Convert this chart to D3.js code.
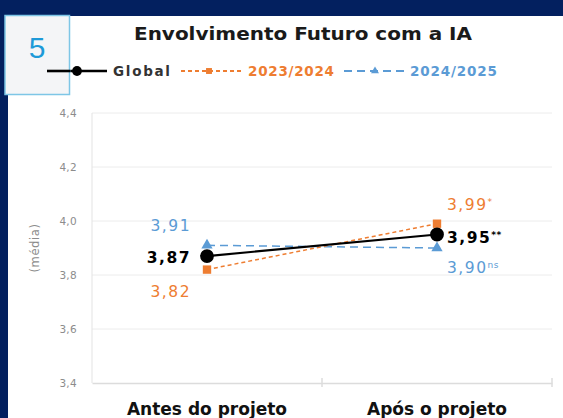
<!DOCTYPE html>
<html lang="en">
<head>
<meta charset="UTF-8" />
<script src="https://d3js.org/d3.v7.min.js"></script>
<style>
  html, body { margin: 0; padding: 0; background: #03205f; }
  svg { display: block; font-family: "DejaVu Sans", "Liberation Sans", Arial, sans-serif; }
</style>
</head>
<body>
<svg id="chart" width="563" height="418"></svg>
<script>
// data
var categories = ["Antes do projeto", "Após o projeto"];
var seriesNames = ["Global", "2023/2024", "2024/2025"];
var globalVals = [3.87, 3.95];
var y2324Vals = [3.82, 3.99];
var y2425Vals = [3.91, 3.90];
var pointLabels = [["3,87", "3,95"], ["3,82", "3,99"], ["3,91", "3,90"]];
var pointSups = [["", "**"], ["", "*"], ["", "ns"]];
var yTicks = [3.4, 3.6, 3.8, 4.0, 4.2, 4.4];

var series = [
  {name: seriesNames[0], values: globalVals, color: "#000000", dash: null, width: 2.2, symbol: d3.symbolCircle, size: 150, bold: true},
  {name: seriesNames[1], values: y2324Vals, color: "#ee7d31", dash: "4,3", width: 1.5, symbol: d3.symbolSquare, size: 70, bold: false},
  {name: seriesNames[2], values: y2425Vals, color: "#5b9bd5", dash: "8,5", width: 1.5, symbol: d3.symbolTriangle, size: 55, bold: false}
];

var svg = d3.select("#chart");

// white panel
svg.append("rect").attr("x", 8).attr("y", 16).attr("width", 555).attr("height", 402).attr("fill", "#ffffff");

var margin = {left: 92, right: 11, top: 113, bottom: 35};
var W = 563, H = 418;
var x = d3.scaleBand().domain(categories).range([margin.left, W - margin.right]);
var y = d3.scaleLinear().domain([3.4, 4.4]).range([H - margin.bottom, margin.top]);

// grid
svg.append("g").selectAll("line").data(yTicks.slice(1)).join("line")
  .attr("x1", margin.left).attr("x2", W - margin.right)
  .attr("y1", d => y(d)).attr("y2", d => y(d))
  .attr("stroke", "#ececec").attr("stroke-width", 1);

// left axis line
svg.append("line").attr("x1", margin.left).attr("x2", margin.left)
  .attr("y1", y(4.4)).attr("y2", y(3.4)).attr("stroke", "#e3e3e3");

// y tick labels
svg.append("g").selectAll("text").data(yTicks).join("text")
  .attr("x", 77).attr("y", d => y(d) + 4)
  .attr("text-anchor", "end").attr("font-size", 10.5).attr("fill", "#8c8c8c")
  .attr("letter-spacing", 0.3)
  .text(d => d3.format(".1f")(d).replace(".", ","));

// bottom axis
var xAxis = svg.append("g").attr("transform", "translate(0," + y(3.4) + ")")
  .call(d3.axisBottom(x).tickSize(0).tickFormat(""));
xAxis.select(".domain").attr("stroke", "#dcdcdc").attr("stroke-width", 1.5);
var bounds = [margin.left, x(categories[1]), W - margin.right];
xAxis.selectAll(".sep").data(bounds.slice(1)).join("line").attr("class", "sep")
  .attr("x1", d => d).attr("x2", d => d).attr("y1", -5).attr("y2", 4)
  .attr("stroke", "#dcdcdc").attr("stroke-width", 1.5);

svg.append("g").selectAll("text").data(categories).join("text")
  .attr("x", d => x(d) + x.bandwidth() / 2).attr("y", 415)
  .attr("text-anchor", "middle").attr("font-size", 17).attr("font-weight", "bold")
  .attr("fill", "#111").text(d => d);

// y axis title
svg.append("text").attr("transform", "translate(39," + y(3.9) + ") rotate(-90)")
  .attr("text-anchor", "middle").attr("font-size", 11.5).attr("letter-spacing", 0.6)
  .attr("fill", "#8c8c8c").text("(média)");

// lines and markers (draw global last)
var cx = c => x(c) + x.bandwidth() / 2;
var line = d3.line().x((d, i) => cx(categories[i])).y(d => y(d));
[2, 1, 0].forEach(function (k) {
  var s = series[k];
  svg.append("path").datum(s.values).attr("d", line).attr("fill", "none")
    .attr("stroke", s.color).attr("stroke-width", s.width).attr("stroke-dasharray", s.dash);
  svg.append("g").selectAll("path").data(s.values).join("path")
    .attr("transform", (d, i) => "translate(" + cx(categories[i]) + "," + y(d) + ")")
    .attr("d", d3.symbol().type(s.symbol).size(s.size)).attr("fill", s.color);
});

// value labels
var leftDy = [7, 27, -14];
var rightDy = [8, -14, 25];
series.forEach(function (s, k) {
  s.values.forEach(function (v, i) {
    var px = cx(categories[i]), py = y(v);
    var t = svg.append("text").attr("font-size", 15.5).attr("fill", s.color)
      .attr("letter-spacing", 1.5)
      .attr("font-weight", s.bold ? "bold" : "normal");
    if (i === 0) {
      t.attr("x", px - 16).attr("y", py + leftDy[k]).attr("text-anchor", "end");
    } else {
      t.attr("x", px + 10).attr("y", py + rightDy[k]).attr("text-anchor", "start");
    }
    t.append("tspan").text(pointLabels[k][i]);
    if (pointSups[k][i]) t.append("tspan").attr("font-size", 9).attr("dy", -5).attr("letter-spacing", 0.5).text(pointSups[k][i]);
  });
});

// title
svg.append("text").attr("x", 303).attr("y", 40).attr("text-anchor", "middle")
  .attr("font-size", 17.5).attr("font-weight", "bold").attr("fill", "#1a1a1a")
  .attr("textLength", 338).attr("lengthAdjust", "spacingAndGlyphs")
  .text("Envolvimento Futuro com a IA");

// legend
var legend = [
  {x0: 47, x1: 107, mx: 77, tx: 113, tw: 57, s: series[0]},
  {x0: 181, x1: 244, mx: 209, tx: 248, tw: 86, s: series[1]},
  {x0: 344, x1: 404, mx: 375, tx: 410, tw: 87, s: series[2]}
];
legend.forEach(function (l) {
  var g = svg.append("g");
  g.append("line").attr("x1", l.x0).attr("x2", l.x1).attr("y1", 71).attr("y2", 71)
    .attr("stroke", l.s.color).attr("stroke-width", l.s.width + 0.4).attr("stroke-dasharray", l.s.dash);
  g.append("path").attr("transform", "translate(" + l.mx + ",71)")
    .attr("d", d3.symbol().type(l.s.symbol).size(l.s.size * 0.5)).attr("fill", l.s.color);
  g.append("text").attr("x", l.tx).attr("y", 76).attr("font-size", 13.5).attr("font-weight", "bold")
    .attr("textLength", l.tw).attr("lengthAdjust", "spacing")
    .attr("fill", l.s.name === "Global" ? "#333" : l.s.color).text(l.s.name);
});

// number box
svg.append("rect").attr("x", 5).attr("y", 15.5).attr("width", 64.5).attr("height", 79)
  .attr("fill", "#f4f5f7").attr("stroke", "#7ec6e6").attr("stroke-width", 1.5);
svg.append("text").attr("x", 37).attr("y", 58).attr("text-anchor", "middle")
  .attr("font-size", 30).attr("fill", "#1e9ad8").attr("font-family", "Liberation Sans, Arial, sans-serif").text("5");
// legend line overlaps the box edge
svg.append("line").attr("x1", 47).attr("x2", 70).attr("y1", 71).attr("y2", 71).attr("stroke", "#000").attr("stroke-width", 2.6);
</script>
</body>
</html>
